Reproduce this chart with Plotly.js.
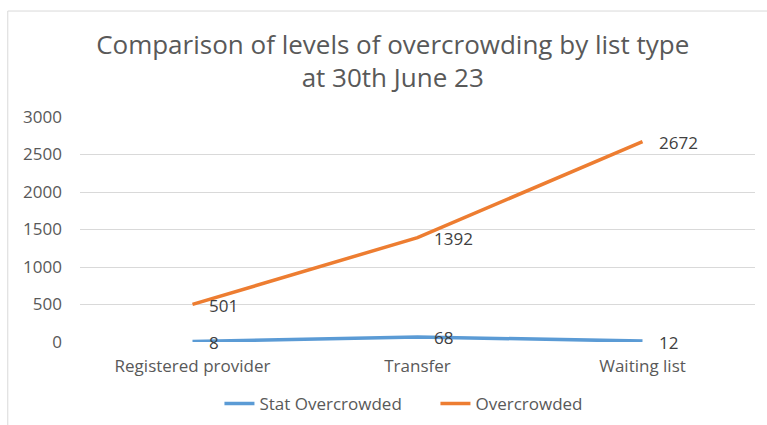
<!DOCTYPE html>
<html><head><meta charset="utf-8">
<script src="https://cdn.plot.ly/plotly-3.0.1.min.js"></script>
<style>html,body{margin:0;padding:0;background:#fff;}#chart{width:767px;height:425px;}</style>
</head><body><div id="chart"></div>
<script>
const categories = ["Registered provider", "Transfer", "Waiting list"];
const statOvercrowded = [8, 68, 12];
const overcrowded = [501, 1392, 2672];
const yTicks = [0, 500, 1000, 1500, 2000, 2500, 3000];

const FONT = "'Open Sans', sans-serif";
const GREY = "#595959";

const traces = [
  {x: categories, y: statOvercrowded, name: "Stat Overcrowded", type: "scatter", mode: "lines",
   line: {color: "#5B9BD5", width: 3.5}},
  {x: categories, y: overcrowded, name: "Overcrowded", type: "scatter", mode: "lines",
   line: {color: "#ED7D31", width: 3.5}}
];

const annotations = [];
[statOvercrowded, overcrowded].forEach(series => {
  series.forEach((v, i) => {
    annotations.push({x: categories[i], y: v, xref: "x", yref: "y", text: String(v),
      showarrow: false, xanchor: "left", yanchor: "middle", xshift: 14, yshift: -1,
      font: {family: FONT, size: 17, color: "#404040"}});
  });
});

const layout = {
  width: 767, height: 425,
  margin: {l: 79.5, r: 11.5, t: 117, b: 83, autoexpand: false},
  paper_bgcolor: "#fff", plot_bgcolor: "#fff",
  title: {text: "Comparison of levels of overcrowding by list type<br>at 30th June 23",
    x: 0.512, xref: "container", xanchor: "center", y: 0.874, yref: "container", yanchor: "middle",
    font: {family: FONT, size: 26, color: GREY}},
  xaxis: {type: "category", range: [-0.5, 2.5], showgrid: false, zeroline: false,
    showline: false, ticks: "", ticklabelstandoff: 12,
    tickfont: {family: FONT, size: 17, color: GREY}},
  yaxis: {range: [0, 3000], tickvals: yTicks, showgrid: true, gridcolor: "#D9D9D9", gridwidth: 1,
    zeroline: false, showline: false, ticks: "", ticklabelstandoff: 17,
    tickfont: {family: FONT, size: 17, color: GREY}},
  legend: {orientation: "h", x: 0.2066, xanchor: "left", y: -0.275, yanchor: "middle",
    font: {family: FONT, size: 17, color: GREY}, entrywidth: 171, entrywidthmode: "pixels"},
  showlegend: true,
  annotations: annotations,
  shapes: [{type: "rect", xref: "paper", yref: "paper", x0: -0.107, x1: 1.1, y0: -0.5, y1: 1.471,
    line: {color: "#D9D9D9", width: 1}, fillcolor: "rgba(0,0,0,0)", layer: "below"}]
};

Plotly.newPlot("chart", traces, layout, {displayModeBar: false, staticPlot: true});
</script></body></html>
